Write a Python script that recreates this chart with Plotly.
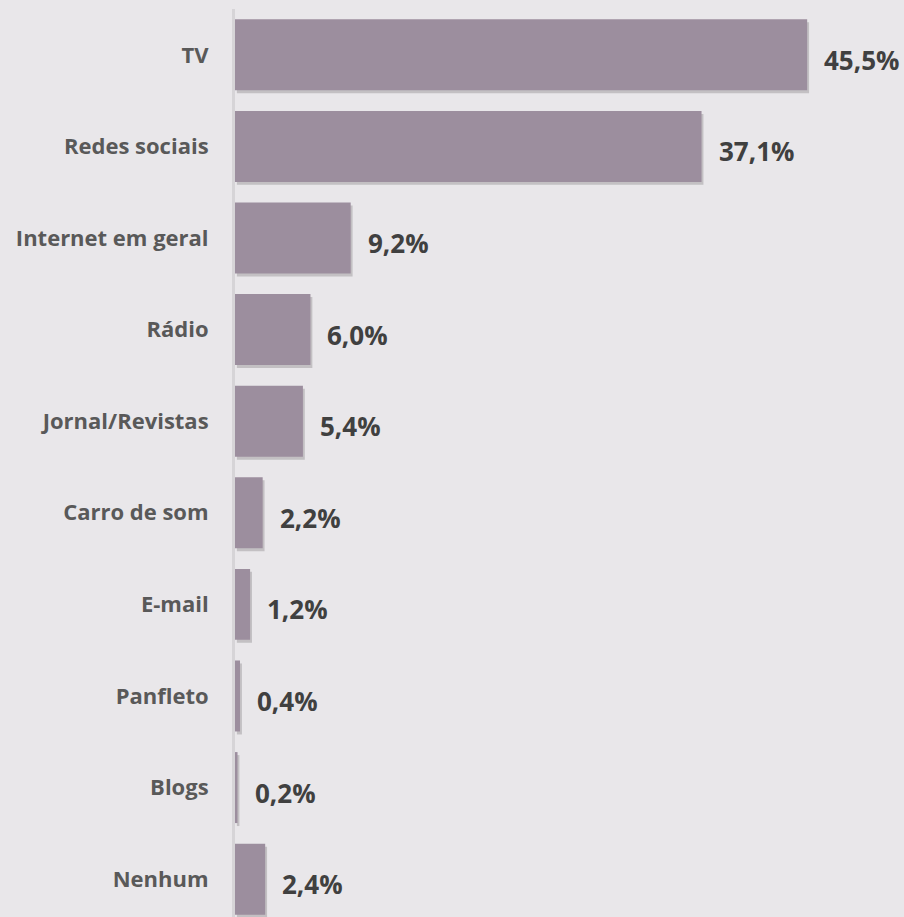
import plotly.graph_objects as go

categories = ["TV", "Redes sociais", "Internet em geral", "Rádio", "Jornal/Revistas",
              "Carro de som", "E-mail", "Panfleto", "Blogs", "Nenhum"]
values = [45.5, 37.1, 9.2, 6.0, 5.4, 2.2, 1.2, 0.4, 0.2, 2.4]
value_labels = ["45,5%", "37,1%", "9,2%", "6,0%", "5,4%", "2,2%", "1,2%", "0,4%", "0,2%", "2,4%"]

BG = "#e9e7ea"
BAR = "#9c8e9e"

fig = go.Figure()
# soft drop shadow
fig.add_trace(go.Bar(
    y=categories, x=values, base=[0.15] * len(values), orientation="h",
    marker=dict(color="rgba(60,55,60,0.22)", line=dict(width=0)),
    width=0.775, offset=-0.355, hoverinfo="skip", showlegend=False,
))
fig.add_trace(go.Bar(
    y=categories, x=values, orientation="h",
    marker=dict(color=BAR, line=dict(width=0)),
    width=0.775, offset=-0.3875, showlegend=False,
))

for c, v, t in zip(categories, values, value_labels):
    fig.add_annotation(
        x=v, y=c, text=t, showarrow=False, xanchor="left", yanchor="middle",
        xshift=15, yshift=-5,
        font=dict(family="Open Sans", size=26, color="#404040", weight="bold"),
    )

fig.update_layout(
    width=904, height=917,
    margin=dict(l=235, r=0, t=9, b=0),
    paper_bgcolor=BG, plot_bgcolor=BG,
    barmode="overlay",
    xaxis=dict(range=[0, 53.2], showgrid=False, zeroline=False,
               showticklabels=False, showline=False, fixedrange=True),
    yaxis=dict(type="category", range=[9.413, -0.5], showgrid=False,
               showline=True, linecolor="#d6d4d7", linewidth=3,
               ticks="", ticklabelstandoff=19,
               tickfont=dict(family="Open Sans", size=22, color="#595959", weight="bold")),
)

fig.write_html(
    "out.html",
    config={"displayModeBar": False},
    post_script="document.body.style.margin='0';document.body.style.overflow='hidden';"
                "document.body.style.background='" + BG + "';",
)
